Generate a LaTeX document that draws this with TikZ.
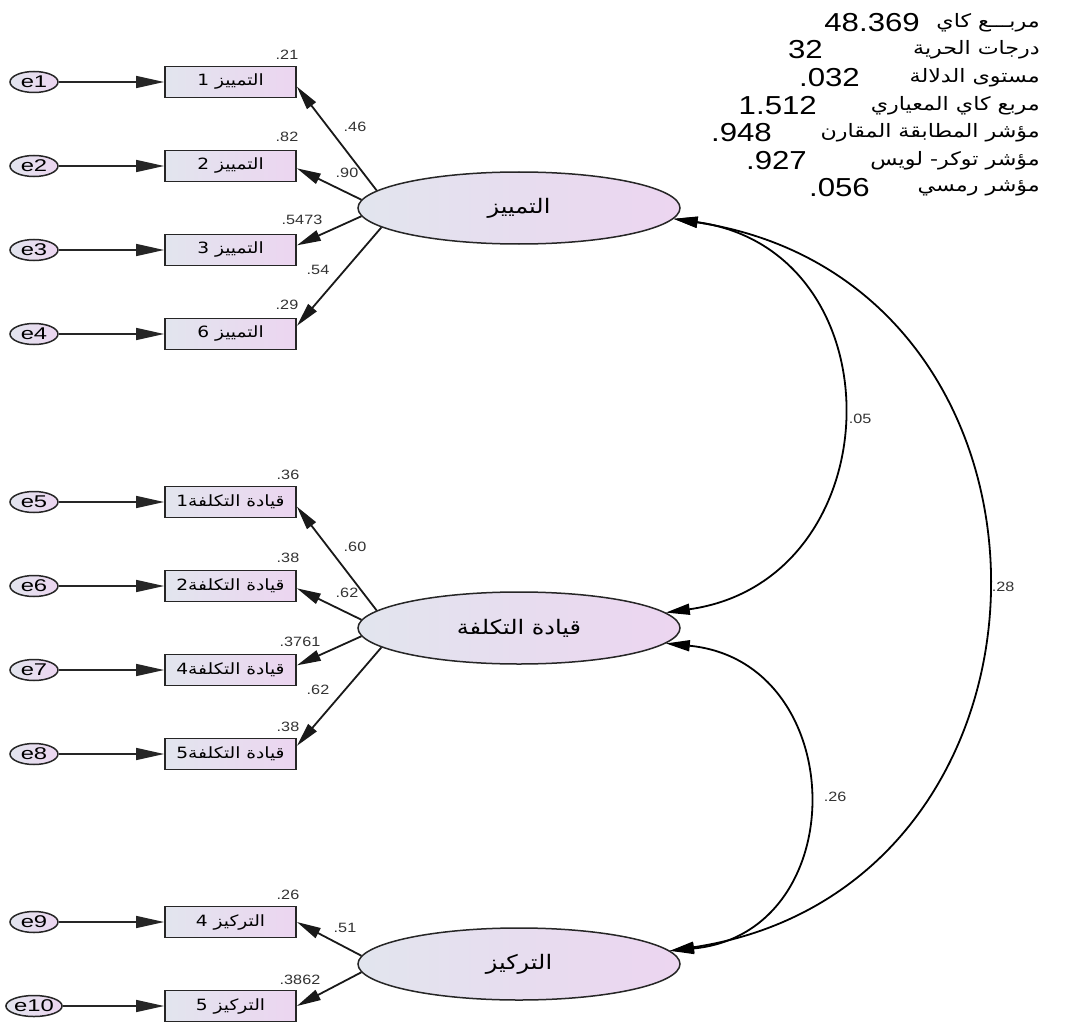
\documentclass[tikz,border=0pt]{standalone}
\usepackage{fontspec}
\TeXXeTstate=1
\usetikzlibrary{arrows.meta,shapes.geometric}
\newfontfamily\latinfont[FakeStretch=1.2]{Liberation Sans}
\newfontfamily\widefont[FakeStretch=1.4]{Liberation Sans}
\newfontfamily\arabicfont[Script=Arabic,FakeStretch=1.2]{DejaVu Sans}
\newcommand{\arab}[1]{{\arabicfont\beginR #1\endR}}
\definecolor{shadeL}{RGB}{226,229,238}
\definecolor{shadeR}{RGB}{236,213,240}
\begin{document}
\begin{tikzpicture}[x=1pt,y=-1pt,
  obs/.style={draw=black!85, line width=1.8pt, minimum width=131pt, minimum height=31pt,
    inner sep=0pt, left color=shadeL, right color=shadeR,
    font=\arabicfont\fontsize{15.5}{17}\selectfont},
  latent/.style={ellipse, draw=black!85, line width=1.5pt, minimum width=322pt, minimum height=72pt,
    inner sep=0pt, left color=shadeL, right color=shadeR,
    font=\arabicfont\fontsize{20}{22}\selectfont},
  err/.style={ellipse, draw=black!85, line width=1.5pt, minimum width=48pt, minimum height=21pt,
    inner sep=0pt, left color=shadeL, right color=shadeR,
    font=\widefont\fontsize{17}{17}\selectfont},
  errarrow/.style={-{Triangle[length=28pt,width=12pt]}, line width=1.5pt, draw=black!85},
  loadarrow/.style={-{Triangle[length=24pt,width=11pt]}, line width=1.8pt, draw=black!90},
  cov/.style={{Triangle[length=24pt,width=11pt]}-{Triangle[length=24pt,width=11pt]}, line width=1.8pt},
  coef/.style={inner sep=0pt, font=\latinfont\fontsize{13.5}{13.5}\selectfont, text=black!80},
  statnum/.style={inner sep=0pt, anchor=east, font=\latinfont\fontsize{26}{26}\selectfont},
  statlab/.style={inner sep=0pt, anchor=east, font=\arabicfont\fontsize{18.5}{18.5}\selectfont}
]
\useasboundingbox[fill=white] (0,0) rectangle (1089,1027);

% fit statistics: values
\node[statnum] (g1) at (920,23)  {48.369};
\node[statnum] (g2) at (823,50)  {32};
\node[statnum] (g3) at (860,78)  {.032};
\node[statnum] (g4) at (817,106) {1.512};
\node[statnum] (g5) at (772,133) {.948};
\node[statnum] (g6) at (807,161) {.927};
\node[statnum] (g7) at (870,188) {.056};
% fit statistics: names
\node[statlab] (f1) at (1040,23)  {\arab{مربـــع كاي}};
\node[statlab] (f2) at (1040,50)  {\arab{درجات الحرية}};
\node[statlab] (f3) at (1040,78)  {\arab{مستوى الدلالة}};
\node[statlab] (f4) at (1040,106) {\arab{مربع كاي المعياري}};
\node[statlab] (f5) at (1040,133) {\arab{مؤشر المطابقة المقارن}};
\node[statlab] (f6) at (1040,161) {\arab{مؤشر توكر- لويس}};
\node[statlab] (f7) at (1040,188) {\arab{مؤشر رمسي}};

% latent factors
\node[latent] (L1) at (519,208) {\arab{التمييز}};
\node[latent] (L2) at (519,628) {\arab{قيادة التكلفة}};
\node[latent] (L3) at (519,964) {\arab{التركيز}};

% indicators of the first factor
\node[obs] (b1) at (230.5,82)  {\arab{التمييز 1}};
\node[obs] (b2) at (230.5,166) {\arab{التمييز 2}};
\node[obs] (b3) at (230.5,250) {\arab{التمييز 3}};
\node[obs] (b6) at (230.5,334) {\arab{التمييز 6}};
% indicators of the second factor
\node[obs] (c1) at (230.5,502) {\arab{قيادة التكلفة1}};
\node[obs] (c2) at (230.5,586) {\arab{قيادة التكلفة2}};
\node[obs] (c4) at (230.5,670) {\arab{قيادة التكلفة4}};
\node[obs] (c5) at (230.5,754) {\arab{قيادة التكلفة5}};
% indicators of the third factor
\node[obs] (t4) at (230.5,922)  {\arab{التركيز 4}};
\node[obs] (t5) at (230.5,1006) {\arab{التركيز 5}};

% error terms
\foreach \e/\y in {1/82,2/166,3/250,4/334,5/502,6/586,7/670,8/754,9/922,10/1006}
  \node[err] (e\e) at (34,\y) {e\e};
\foreach \e/\b in {1/b1,2/b2,3/b3,4/b6,5/c1,6/c2,7/c4,8/c5,9/t4,10/t5}
  \draw[errarrow] (e\e) -- (\b);

% loadings
\draw[loadarrow] (L1.173) -- (b1.-4);
\draw[loadarrow] (L1.177) -- (b2.-2);
\draw[loadarrow] (L1.183) -- (b3.4);
\draw[loadarrow] (L1.188) -- (b6.7);
\draw[loadarrow] (L2.173) -- (c1.-4);
\draw[loadarrow] (L2.177) -- (c2.-2);
\draw[loadarrow] (L2.183) -- (c4.4);
\draw[loadarrow] (L2.188) -- (c5.7);
\draw[loadarrow] (L3.177) -- (t4.east);
\draw[loadarrow] (L3.183) -- (t5.east);

% covariances
\draw[cov] (L1.-4) .. controls +(228,32) and +(228,-32) .. (L2.6);
\draw[cov] (L1.-4) .. controls +(418,63) and +(418,-63) .. (L3.5);
\draw[cov] (L2.-6) .. controls +(185,18) and +(185,-18) .. (L3.5);

% squared multiple correlations
\node[coef] (r1) at (287,55)  {.21};
\node[coef] (r2) at (287,137) {.82};
\node[coef] (r3) at (302,220) {.5473};
\node[coef] (r6) at (287,305) {.29};
\node[coef] (s1) at (288,475) {.36};
\node[coef] (s2) at (288,558) {.38};
\node[coef] (s4) at (300,642) {.3761};
\node[coef] (s5) at (288,727) {.38};
\node[coef] (u4) at (288,895) {.26};
\node[coef] (u5) at (300,980) {.3862};
% standardized loadings
\node[coef] (w1) at (355,127) {.46};
\node[coef] (w2) at (347,173) {.90};
\node[coef] (w3) at (318,270) {.54};
\node[coef] (v1) at (355,547) {.60};
\node[coef] (v2) at (347,593) {.62};
\node[coef] (v3) at (318,690) {.62};
\node[coef] (x1) at (345,928) {.51};
% correlations
\node[coef] (k1) at (860,419) {.05};
\node[coef] (k2) at (1003,587) {.28};
\node[coef] (k3) at (835,797) {.26};
\end{tikzpicture}
\end{document}
